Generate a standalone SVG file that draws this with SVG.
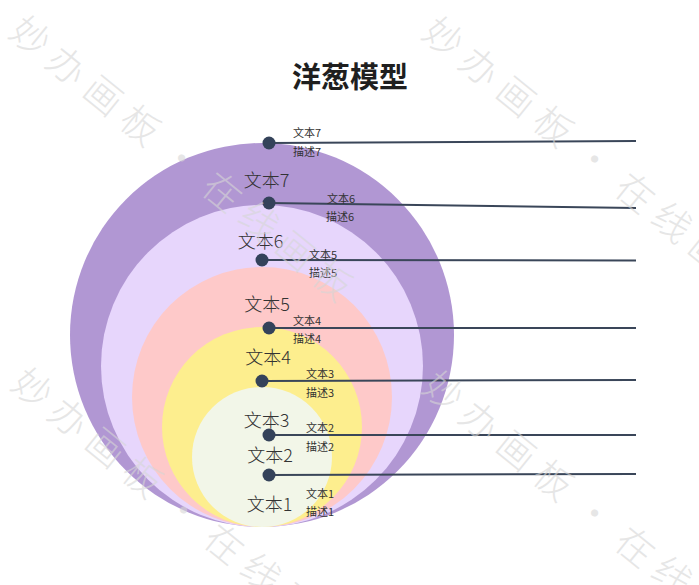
<svg xmlns="http://www.w3.org/2000/svg" width="699" height="585" viewBox="0 0 699 585">
<style>
.title{font-family:"Noto Sans CJK SC","Noto Sans",sans-serif;font-size:29px;font-weight:bold;fill:#1f1f1f;text-anchor:middle}
.big{font-family:"Noto Sans CJK SC","Noto Sans",sans-serif;font-size:18px;fill:#333;text-anchor:middle;font-weight:300}
.sm{font-family:"Noto Sans CJK SC","Noto Sans",sans-serif;font-size:11px;fill:#333}
.dot{fill:#34425a}
.conn{stroke:#3a4659;stroke-width:2;fill:none}
.wm{font-family:"Noto Sans CJK SC",sans-serif;font-size:38px;font-weight:300;fill:#d6d6d6;opacity:0.6;letter-spacing:9px}
</style>
<rect width="699" height="585" fill="#fff"/>
<text class="title" x="350" y="88">洋葱模型</text>
<g id="layer7"><circle cx="262" cy="335" r="192" fill="#b197d3"/></g>
<g id="layer6"><circle cx="262" cy="366" r="161" fill="#e7d6fc"/></g>
<g id="layer5"><circle cx="262" cy="397" r="130" fill="#fec9c9"/></g>
<g id="layer4"><circle cx="262" cy="427" r="100" fill="#fdee8e"/></g>
<g id="layer3"><circle cx="262" cy="457" r="70" fill="#f2f6e8"/></g>
<g id="connectors">
<line class="conn" x1="269" y1="143" x2="636" y2="141"/>
<line class="conn" x1="269" y1="203" x2="636" y2="208"/>
<line class="conn" x1="262" y1="260" x2="636" y2="260.5"/>
<line class="conn" x1="269" y1="328" x2="636" y2="328"/>
<line class="conn" x1="262" y1="381" x2="636" y2="380"/>
<line class="conn" x1="269" y1="435" x2="636" y2="435"/>
<line class="conn" x1="269" y1="475" x2="636" y2="474"/>
</g>
<g id="labels">
<text class="big" x="266.5" y="187">文本7</text>
<text class="big" x="260.5" y="248">文本6</text>
<text class="big" x="267" y="311">文本5</text>
<text class="big" x="268" y="364">文本4</text>
<text class="big" x="266.5" y="427">文本3</text>
<text class="big" x="270" y="462">文本2</text>
<text class="big" x="269.5" y="511">文本1</text>
</g>
<g id="point7"><circle class="dot" cx="269" cy="143" r="6.5"/><text class="sm" x="293" y="137">文本7</text><text class="sm" x="293" y="156">描述7</text></g>
<g id="point6"><circle class="dot" cx="269" cy="203" r="6.5"/><text class="sm" x="327" y="203">文本6</text><text class="sm" x="326" y="221">描述6</text></g>
<g id="point5"><circle class="dot" cx="262" cy="260" r="6.5"/><text class="sm" x="309" y="259">文本5</text><text class="sm" x="309" y="277">描述5</text></g>
<g id="point4"><circle class="dot" cx="269" cy="328" r="6.5"/><text class="sm" x="293" y="325">文本4</text><text class="sm" x="293" y="343">描述4</text></g>
<g id="point3"><circle class="dot" cx="262" cy="381" r="6.5"/><text class="sm" x="306" y="378">文本3</text><text class="sm" x="306" y="397">描述3</text></g>
<g id="point2"><circle class="dot" cx="269" cy="435" r="6.5"/><text class="sm" x="306" y="432">文本2</text><text class="sm" x="306" y="451">描述2</text></g>
<g id="point1"><circle class="dot" cx="269" cy="475" r="6.5"/><text class="sm" x="306" y="498">文本1</text><text class="sm" x="306" y="516">描述1</text></g>
<g id="watermark">
<text class="wm" transform="translate(30,37) rotate(39)" x="-19" y="13">妙办画板<tspan dx="6">·</tspan><tspan dx="6">在线画板</tspan></text>
<text class="wm" transform="translate(443,38) rotate(39)" x="-19" y="13">妙办画板<tspan dx="6">·</tspan><tspan dx="6">在线画板</tspan></text>
<text class="wm" transform="translate(32,389) rotate(39)" x="-19" y="13">妙办画板<tspan dx="6">·</tspan><tspan dx="6">在线画板</tspan></text>
<text class="wm" transform="translate(443,392) rotate(39)" x="-19" y="13">妙办画板<tspan dx="6">·</tspan><tspan dx="6">在线画板</tspan></text>
</g>
</svg>
